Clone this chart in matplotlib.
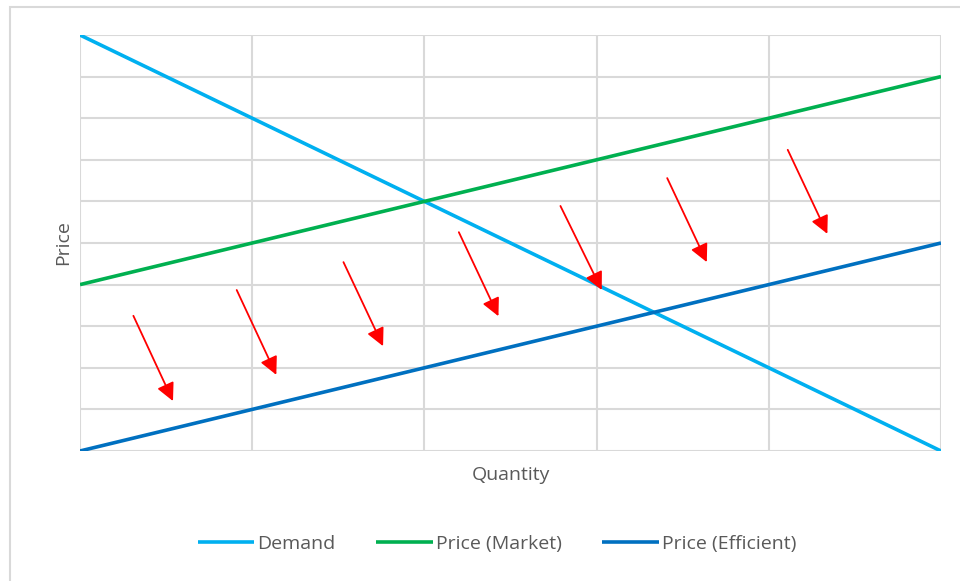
import matplotlib
matplotlib.use("Agg")
import matplotlib.pyplot as plt
from matplotlib.patches import Rectangle

# supply / demand lines (quantity 0..5, price 0..10)
quantity = [0, 1, 2, 3, 4, 5]
demand = [10, 8, 6, 4, 2, 0]
price_market = [4, 5, 6, 7, 8, 9]
price_efficient = [0, 1, 2, 3, 4, 5]

# red arrows pushing the price down
arrow_x0 = [0.31, 0.91, 1.53, 2.20, 2.79, 3.41, 4.11]
arrow_y0 = [3.25, 3.87, 4.54, 5.26, 5.89, 6.56, 7.24]
arrow_x1 = [0.54, 1.14, 1.76, 2.43, 3.03, 3.64, 4.34]
arrow_y1 = [1.20, 1.83, 2.52, 3.24, 3.87, 4.54, 5.22]

plt.rcParams['font.family'] = ['Open Sans', 'DejaVu Sans']
text_color = "#595959"
grid_color = "#D9D9D9"

fig = plt.figure(figsize=(9.6, 5.81), dpi=100)
ax = fig.add_axes([80 / 960, 130 / 581, 861 / 960, 416 / 581])

# outer chart frame (right and bottom edges fall outside the image)
fig.patches.append(Rectangle((10 / 960, -0.05), 1.0, 1.05 - 7 / 581, transform=fig.transFigure,
                             fill=False, edgecolor=grid_color, lw=1.5, clip_on=False))

ax.plot(quantity, demand, color="#00B0F0", lw=2.6, label="Demand", solid_capstyle="butt")
ax.plot(quantity, price_market, color="#00B050", lw=2.6, label="Price (Market)", solid_capstyle="butt")
ax.plot(quantity, price_efficient, color="#0070C0", lw=2.6, label="Price (Efficient)", solid_capstyle="butt")

for x0, y0, x1, y1 in zip(arrow_x0, arrow_y0, arrow_x1, arrow_y1):
    ax.annotate("", xy=(x1, y1), xytext=(x0, y0),
                arrowprops=dict(arrowstyle="-|>", color="#FF0000", lw=1.3,
                                mutation_scale=27, shrinkA=0, shrinkB=0))

ax.set_xlim(0, 5)
ax.set_ylim(0, 10)
ax.set_xticks(quantity)
ax.set_yticks(range(0, 11))
ax.tick_params(length=0, labelbottom=False, labelleft=False)
ax.grid(True, color=grid_color, lw=1.5)
ax.set_axisbelow(True)
for s in ax.spines.values():
    s.set_visible(False)

ax.set_xlabel("Quantity", fontsize=14, color=text_color, labelpad=11)
ax.set_ylabel("Price", fontsize=14, color=text_color, labelpad=6)

leg = fig.legend(loc="center", bbox_to_anchor=(497 / 960, 1 - 544 / 581), ncol=3,
                 frameon=False, fontsize=14, handlelength=2.9, handletextpad=0.15,
                 columnspacing=2.1)
for t in leg.get_texts():
    t.set_color(text_color)

fig.savefig("out.png", dpi=100)
